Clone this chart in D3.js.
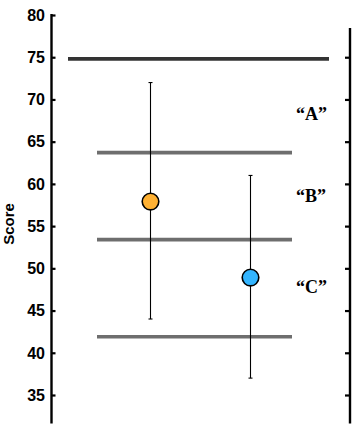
<!DOCTYPE html>
<html><head><meta charset="utf-8">
<script src="https://cdn.jsdelivr.net/npm/d3@7"></script>
<style>html,body{margin:0;padding:0;background:#fff;}</style>
</head><body>
<svg id="chart" width="360" height="433"></svg>
<script>
// Data
const groups = ["1", "2"];
const groupX = [2, 4];
const means = [57.9, 48.9];
const upper = [72, 61];
const lower = [44, 37];
const pointColors = ["#FFB133", "#33B5FF"];
const thresholdValues = [74.8, 63.7, 53.4, 41.9];
const thresholdStart = [0.36, 0.94, 0.94, 0.94];
const thresholdEnd = [5.58, 4.84, 4.84, 4.84];
const thresholdColors = ["#333333", "#6e6e6e", "#6e6e6e", "#6e6e6e"];
const zoneLabels = ["\u201CA\u201D", "\u201CB\u201D", "\u201CC\u201D"];
const zoneLabelY = [68.3, 58.6, 47.8];
const tickValues = [35, 40, 45, 50, 55, 60, 65, 70, 75, 80];
const yLabel = "Score";

const svg = d3.select("#chart");
const y = d3.scaleLinear().domain([35, 80]).range([395, 15]);
const x = d3.scaleLinear().domain([0, 6]).range([50, 350]);
const yBottom = 423.5;

// Left axis
const leftAxis = d3.axisRight(y).tickValues(tickValues).tickSize(4).tickFormat("");
const gl = svg.append("g").attr("transform", "translate(51.5,0)").call(leftAxis);
gl.select(".domain").remove();
gl.selectAll(".tick line").attr("stroke", "#000").attr("stroke-width", 2.2);
svg.append("line").attr("x1", 51.5).attr("x2", 51.5).attr("y1", y(80) - 1).attr("y2", yBottom)
  .attr("stroke", "#000").attr("stroke-width", 2.4);
// tick labels
svg.append("g").selectAll("text").data(tickValues).join("text")
  .attr("x", 45).attr("y", d => y(d)).attr("dy", "0.36em")
  .attr("text-anchor", "end")
  .attr("font-family", "Liberation Sans, Arial, sans-serif")
  .attr("font-weight", "bold").attr("font-size", 16)
  .text(d => d);

// Right axis
const rightAxis = d3.axisLeft(y).tickValues(tickValues.filter(d => d <= 75)).tickSize(5).tickFormat("");
const gr = svg.append("g").attr("transform", "translate(350,0)").call(rightAxis);
gr.select(".domain").remove();
gr.selectAll(".tick line").attr("stroke", "#000").attr("stroke-width", 2.2);
svg.append("line").attr("x1", 350).attr("x2", 350).attr("y1", 28).attr("y2", yBottom)
  .attr("stroke", "#000").attr("stroke-width", 2.4);

// Y label
svg.append("text")
  .attr("transform", `translate(14,${224}) rotate(-90)`)
  .attr("text-anchor", "middle")
  .attr("font-family", "Liberation Sans, Arial, sans-serif")
  .attr("font-weight", "bold").attr("font-size", 15)
  .text(yLabel);

// Threshold lines
svg.append("g").selectAll("line").data(thresholdValues).join("line")
  .attr("x1", (d, i) => x(thresholdStart[i]))
  .attr("x2", (d, i) => x(thresholdEnd[i]))
  .attr("y1", d => y(d)).attr("y2", d => y(d))
  .attr("stroke", (d, i) => thresholdColors[i])
  .attr("stroke-width", 3.6);

// Zone labels
svg.append("g").selectAll("text").data(zoneLabels).join("text")
  .attr("x", 296).attr("y", (d, i) => y(zoneLabelY[i])).attr("dy", "0.35em")
  .attr("font-family", "Liberation Serif, Times New Roman, serif")
  .attr("font-weight", "bold").attr("font-size", 18)
  .text(d => d);

// Error bars
const eb = svg.append("g").selectAll("g").data(groups).join("g");
eb.append("line")
  .attr("x1", (d, i) => x(groupX[i]) + 0.5).attr("x2", (d, i) => x(groupX[i]) + 0.5)
  .attr("y1", (d, i) => y(upper[i])).attr("y2", (d, i) => y(lower[i]))
  .attr("stroke", "#000").attr("stroke-width", 1.1);
eb.append("line")
  .attr("x1", (d, i) => x(groupX[i]) - 1.5).attr("x2", (d, i) => x(groupX[i]) + 2.5)
  .attr("y1", (d, i) => y(upper[i])).attr("y2", (d, i) => y(upper[i]))
  .attr("stroke", "#000").attr("stroke-width", 1.1);
eb.append("line")
  .attr("x1", (d, i) => x(groupX[i]) - 1.5).attr("x2", (d, i) => x(groupX[i]) + 2.5)
  .attr("y1", (d, i) => y(lower[i])).attr("y2", (d, i) => y(lower[i]))
  .attr("stroke", "#000").attr("stroke-width", 1.1);

// Points
svg.append("g").selectAll("circle").data(groups).join("circle")
  .attr("cx", (d, i) => x(groupX[i]) + 0.5)
  .attr("cy", (d, i) => y(means[i]))
  .attr("r", 8.3)
  .attr("fill", (d, i) => pointColors[i])
  .attr("stroke", "#000").attr("stroke-width", 1.6);
</script>
</body></html>
